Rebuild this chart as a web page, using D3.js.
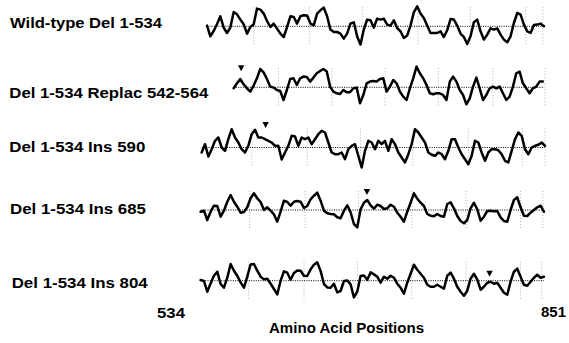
<!DOCTYPE html>
<html><head><meta charset="utf-8">
<script src="https://cdn.jsdelivr.net/npm/d3@7"></script>
<style>
body{margin:0;background:#fff}
svg{display:block}
text{font-family:"Liberation Sans",Arial,Helvetica,sans-serif;font-weight:bold;fill:#000}
</style>
</head><body>
<svg id="chart" width="569" height="343"></svg>
<script>
// ---------------- DATA ----------------
const trackLabels = ["Wild-type Del 1-534", "Del 1-534 Replac 542-564", "Del 1-534 Ins 590", "Del 1-534 Ins 685", "Del 1-534 Ins 804"];
const trackStart = [534, 559, 529, 528, 528];   // amino acid position of first sample
const trackEnd   = [850, 849, 851, 850, 850];   // amino acid position of last sample

const wildTypeValues = [
  0.07,-1.0,-0.47,0.2,1.0,-0.13,-0.67,-0.13,1.43,1.2,
  0.67,0.2,-0.73,-0.07,0.2,1.77,1.67,1.27,0.53,-0.07,
  0.27,-0.23,-0.73,-1.07,-0.07,1.0,0.93,0.27,1.0,1.1,
  1.07,0.27,0.1,1.27,1.6,1.87,1.0,-0.33,-0.57,-0.57,
  -0.73,-1.23,-0.73,0.27,0.4,-1.0,-1.83,-0.33,0.67,0.6,
  -0.13,0.77,0.67,0.77,0.17,0.07,0.6,-0.17,-0.5,-1.17,
  -0.93,0.07,1.4,2.0,1.27,0.83,0.07,-0.67,-0.67,-0.67,
  -0.5,-1.07,-0.4,0.73,0.67,0.07,-0.73,-1.07,-1.77,-1.0,
  0.4,0.67,-0.5,-1.33,-0.83,-0.2,-0.33,-0.2,-0.83,-1.33,
  -1.6,-1.0,0.33,1.33,1.17,0.17,-0.5,-0.67,0.13,0.17,
  0.27,0
];
const replac542Values = [
  -0.1,0.4,0.83,0.3,-0.1,-0.43,0.17,0.9,1.83,1.5,
  0.83,0.07,-0.03,-0.27,-0.37,-1.27,-0.27,0.83,0.9,0.23,
  0.9,1.07,1.03,0.57,0.97,1.4,1.63,1.83,1.57,0.07,
  -0.43,-0.6,-0.67,-0.27,-0.5,-0.5,-0.1,-0.03,-1.6,-0.77,
  0.4,0.57,0.63,0.57,0.83,0.9,
  -0.43,0.07,0.73,0.4,-0.43,-0.93,-1.27,-0.1,0.9,2.07,
  1.4,0.9,0.23,-0.6,-0.7,-0.6,-0.6,-0.77,-1.27,0.57,
  1.07,0.57,-0.27,-0.77,-1.7,-1.1,0.07,0.97,-0.1,-1.27,
  -0.77,-0.1,0.07,-0.1,0.07,-0.6,-1.27,-0.93,0.07,1.4,
  1.57,0.4,-0.1,-0.6,-0.1,0.07,0.57,0.57
];
const ins590Values = [
  -0.5,0.33,-0.9,-0.17,0.67,1.0,0,-0.33,0.83,1.83,
  1.0,0.5,-0.17,-0.5,0.17,1.33,1.77,1.0,1.0,0.83,
  0.67,0.5,0.17,0.17,-1.2,-0.5,0.17,1.17,1.1,0.17,
  1.0,0.83,1.0,0.33,0.83,1.33,1.67,1.5,0.5,-0.5,
  -0.67,-0.67,-0.5,-1.17,-0.17,0.17,0.33,-0.83,-2.0,-0.33,
  0.67,0.5,-0.17,0.67,0.33,0.67,
  -0.33,0.83,0.33,-0.5,-1.0,-1.5,-0.67,0.33,1.83,1.5,
  1.0,0.5,-0.5,-0.73,-0.83,-0.5,-0.67,-1.17,-0.33,0.83,
  0.83,0,-0.67,-1.17,-1.67,-0.83,0.67,0.5,-0.5,-1.33,
  -0.5,-0.17,-0.17,-0.27,-0.67,-1.33,-1.5,-0.33,0.83,1.5,
  1.17,-0.17,-0.67,0,0.17,0.27,0.5,0.17
];
const ins685Values = [
  -0.17,-0.07,-1.0,-0.17,0.43,0.4,-0.67,-0.07,0.83,1.5,
  0.83,0.33,-0.27,-0.2,0.27,1.17,1.67,1.17,0.8,0,
  0.27,-0.07,-0.43,-1.17,-0.17,0.93,0.8,0.43,0.83,0.9,
  0.83,0.2,0.4,1.07,1.43,1.73,0.93,-0.07,-0.33,-0.4,
  -0.43,-0.73,-0.83,-0.07,0.47,-0.23,-1.4,-1.73,0.07,0.73,
  1.0,0.47,0.13,0.53,0.4,0.1,
  0.17,0.53,0.33,-0.27,-0.67,-1.17,-0.17,0.73,1.67,1.13,
  0.73,0.4,-0.4,-0.57,-0.63,-0.4,-0.6,-0.67,0.6,0.77,
  0.17,-0.6,-1.1,-1.33,-1.0,0.17,0.73,0.07,-1.07,-0.67,
  -0.1,-0.07,-0.13,-0.1,-0.73,-1.1,-1.17,0,1.0,1.27,
  0.27,-0.57,-0.6,-0.27,0,0.27,0.43,-0.17
];
const ins804Values = [
  0.07,-0.03,-1.1,-0.27,0.5,0.9,-0.33,-0.7,0.3,1.67,
  1.0,0.5,-0.17,-0.7,0.4,1.63,1.67,1.0,0.4,0.13,
  0.2,-0.3,-0.83,-1.37,0,0.93,0.8,0.1,0.77,1.03,
  1.0,0.5,0.47,1.13,1.6,1.83,0.97,-0.33,-0.67,-0.7,
  -0.3,-1.17,-1.03,-0.03,0.03,-0.37,-1.67,-1.1,0.47,0.53,
  0.1,0.83,0.63,0.4,-0.2,0.4,
  0.2,0.5,0.3,-0.3,-0.7,-1.3,-0.2,0.7,1.6,1.1,
  0.7,0.3,-0.4,-0.6,-0.6,-0.4,-0.6,-0.8,0.5,0.8,
  0.2,-0.6,-1.1,-1.5,-1.0,0.2,0.7,0.1,-0.9,-0.6,
  -0.2,-0.1,-0.3,-0.2,-0.7,-1.2,-1.4,-0.1,0.9,1.2,
  0.4,-0.4,-0.5,-0.1,0.3,0.6,0.3,0.4
];
const trackValues = [wildTypeValues, replac542Values, ins590Values, ins685Values, ins804Values];

// faint dotted position markers (amino acid positions)
const markerPositions = [
  [578, 630, 680, 732, 781, 833, 849],
  [601, 651, 701, 751, 802, 851],
  [576, 628, 678, 727, 779, 830, 851],
  [574, 626, 676, 726, 777, 828, 849],
  [573, 625, 675, 726, 777, 828, 848]
];
// mutation sites marked with a triangle
const mutationSites = [null, 566, 589, 684, 799];
const mutationMarkLevel = [null, 1.6, 1.95, 1.5, 0.4];

const axisTickLabels = ["534", "851"];
const axisDomain = [534, 851];
const axisTitle = "Amino Acid Positions";

// ---------------- LAYOUT ----------------
const svg = d3.select("#chart");
const x = d3.scaleLinear().domain(axisDomain).range([207, 545]);
const trackBaseY = [26.3, 87.3, 147.5, 210, 280.7];
const halfHeight = 20;
const labelX = [10, 9.3, 9.3, 10, 11.7];
const labelY = [28.3, 98.3, 151.7, 214.3, 288.3];
const labelW = [152, 199, 136, 136, 136];

trackLabels.forEach((lab, t) => {
  const base = trackBaseY[t];
  const y = d3.scaleLinear().domain([-2, 2]).range([base + halfHeight, base - halfHeight]);
  const g = svg.append("g");

  g.selectAll("line.mk").data(markerPositions[t]).join("line")
    .attr("x1", d => x(d)).attr("x2", d => x(d))
    .attr("y1", y(1.9)).attr("y2", y(-1.9))
    .attr("stroke", "#444").attr("stroke-width", 0.8)
    .attr("stroke-dasharray", "1,2").attr("opacity", 0.5);

  g.append("line")
    .attr("x1", x(trackStart[t])).attr("x2", x(trackEnd[t]))
    .attr("y1", y(0)).attr("y2", y(0))
    .attr("stroke", "#000").attr("stroke-width", 1)
    .attr("stroke-dasharray", "1,1.3");

  const vals = trackValues[t];
  const n = vals.length;
  const pts = vals.map((v, i) => ({pos: trackStart[t] + i * (trackEnd[t] - trackStart[t]) / (n - 1), v}));
  g.append("path").datum(pts)
    .attr("d", d3.line().x(d => x(d.pos)).y(d => y(d.v)))
    .attr("fill", "none").attr("stroke", "#000")
    .attr("stroke-width", 2.5).attr("stroke-linejoin", "round").attr("stroke-linecap", "round");

  if (mutationSites[t] != null) {
    const cx = x(mutationSites[t]), tip = y(mutationMarkLevel[t]);
    g.append("path")
      .attr("d", `M${cx - 3.2},${tip - 6}L${cx + 3.2},${tip - 6}L${cx},${tip}Z`)
      .attr("fill", "#000");
  }

  g.append("text")
    .attr("x", labelX[t]).attr("y", labelY[t])
    .attr("font-size", 14)
    .attr("textLength", labelW[t]).attr("lengthAdjust", "spacingAndGlyphs")
    .text(lab);
});

svg.append("text").attr("x", x(axisDomain[0]) - 22).attr("y", 318.3)
  .attr("text-anchor", "end").attr("font-size", 14)
  .attr("textLength", 28).attr("lengthAdjust", "spacingAndGlyphs").text(axisTickLabels[0]);
svg.append("text").attr("x", x(axisDomain[1]) - 4).attr("y", 316.7)
  .attr("font-size", 14)
  .attr("textLength", 25).attr("lengthAdjust", "spacingAndGlyphs").text(axisTickLabels[1]);
svg.append("text").attr("x", 269).attr("y", 333)
  .attr("font-size", 14)
  .attr("textLength", 155).attr("lengthAdjust", "spacingAndGlyphs").text(axisTitle);
</script>
</body></html>
